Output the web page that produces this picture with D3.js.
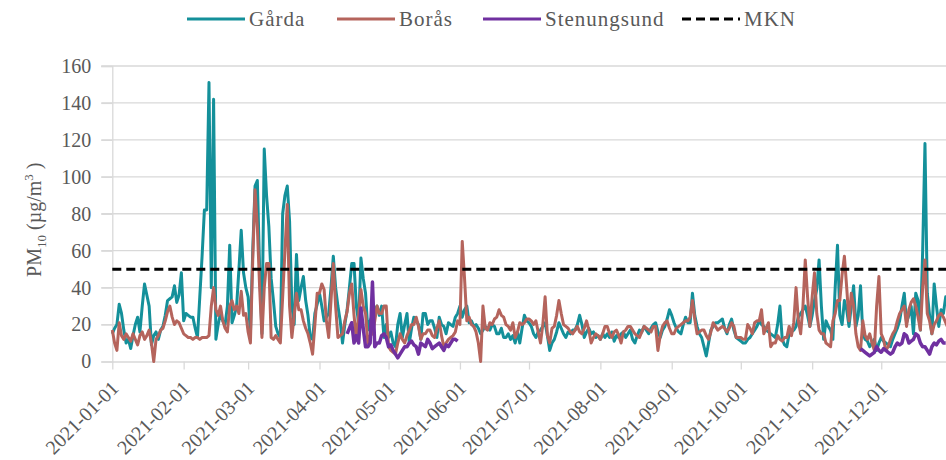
<!DOCTYPE html>
<html>
<head>
<meta charset="utf-8">
<script src="https://cdn.jsdelivr.net/npm/d3@7"></script>
<style>
body { margin: 0; background: #fff; }
svg { display: block; font-family: "Liberation Serif", serif; }
</style>
</head>
<body>
<div id="chart"></div>
<script>
// daily PM10 2021
var startDate = "2021-01-01";
var endDate = "2021-12-31";

var gardaValues = [15,18,20,31,26,17,10,12,7,14,
20,24,16,30,42,36,30,9,14,16,
12,17,19,25,33,34,35,41,32,36,
48,22,26,25,24,24,18,13,35,57,
82,82,151,40,142,12,20,26,22,20,
30,63,21,25,30,50,71,48,40,35,
15,60,95,98,50,15,115,90,73,45,
33,19,15,13,80,90,95,76,30,20,
58,33,40,46,33,25,13,12,26,31,
37,30,22,24,26,40,57,40,30,22,
10,20,28,40,53,53,30,21,56,45,
37,17,22,25,28,30,25,30,13,20,
13,16,10,8,20,26,13,20,26,10,
18,24,22,20,12,26,26,20,22,22,
18,13,24,20,19,15,21,20,19,24,
26,30,24,28,30,21,22,19,20,18,
15,17,19,18,17,20,19,15,15,18,
13,13,15,12,14,10,16,10,18,25,
22,21,19,15,13,16,17,19,21,14,
6,10,12,16,21,18,15,13,16,15,
17,17,20,25,20,13,16,18,15,16,
13,14,12,15,13,15,13,16,11,14,
13,15,16,13,15,17,12,10,14,17,
16,19,17,15,18,20,21,16,13,17,
19,23,28,25,21,18,16,15,20,24,
21,21,37,25,19,15,13,8,3,10,
17,19,21,21,22,23,18,15,20,23,
17,13,12,11,10,10,12,13,15,17,
19,22,20,19,17,16,15,14,13,20,
30,12,9,8,15,16,17,19,24,26,
28,30,25,19,25,33,39,55,30,12,
22,19,17,12,40,63,25,20,33,28,
19,30,41,19,25,41,15,12,11,8,
10,12,6,10,13,11,10,9,8,12,
15,18,22,30,37,21,25,30,15,37,
33,17,60,118,37,25,15,42,30,19,
28,26,35,30,34];

var borasValues = [17,10,6,21,14,12,15,13,11,15,
12,9,14,16,12,14,17,10,0,12,
14,17,18,22,27,30,24,20,22,21,
18,15,14,13,13,12,13,13,12,13,
13,13,14,30,40,28,25,30,22,18,
16,30,33,28,30,26,38,25,26,16,
10,55,93,73,40,13,40,53,53,13,
12,14,12,10,35,60,85,30,13,25,
37,28,28,22,18,15,10,4,20,37,
37,42,39,22,13,33,53,30,13,14,
15,22,27,37,42,25,12,25,39,30,
26,10,14,15,22,30,26,26,30,30,
8,6,5,4,10,15,12,10,14,17,
20,20,24,19,12,15,15,17,17,14,
13,18,22,14,8,10,12,13,14,16,
22,20,65,45,22,24,20,19,16,10,
0,30,18,17,21,20,23,24,28,25,
24,20,19,17,21,13,16,21,20,21,
23,23,22,20,22,16,10,20,35,14,
10,18,19,25,33,26,20,19,18,16,
15,17,19,16,15,18,22,17,10,13,
15,14,12,15,19,19,15,13,16,17,
14,10,16,17,19,19,17,15,14,13,
16,19,18,17,16,19,19,6,14,19,
21,22,18,15,15,18,19,20,21,22,
22,24,33,23,15,16,17,17,14,12,
16,21,19,17,18,19,18,16,18,21,
19,13,13,13,12,12,20,18,15,21,
22,22,28,15,18,21,8,10,10,14,
12,11,13,13,19,14,21,40,22,15,
30,55,35,19,35,48,26,17,15,15,
10,9,8,22,26,33,33,47,57,40,
22,37,30,15,8,6,22,14,12,15,
10,6,30,46,15,12,6,8,12,15,
17,22,26,28,30,19,28,32,34,30,
24,17,40,55,26,22,15,20,22,25,
26,24,21,18,22];

// Stenungsund only measured in two periods
var stenSpringStart = "2021-04-13";
var stenSpringValues = [15,18,21,10,14,10,29,18,8,8,
10,43,8,10,10,14,15,13,8,9,
6,4,2,4,6,8,8,10,11,9,
8,4,10,9,8,12,10,7,8,9,
10,8,6,9,8,10,12,12,11];
var stenWinterStart = "2021-11-22";
var stenWinterValues = [7,6,5,4,3,4,5,8,6,5,
7,6,5,4,5,8,10,9,10,15,
14,10,11,12,15,14,10,8,8,6,
4,8,10,9,11,12,10,10];

var mknLimit = 50;
var yTicks = [0, 20, 40, 60, 80, 100, 120, 140, 160];
var monthTicks = ["2021-01-01","2021-02-01","2021-03-01","2021-04-01","2021-05-01","2021-06-01",
    "2021-07-01","2021-08-01","2021-09-01","2021-10-01","2021-11-01","2021-12-01"];
var legendNames = ["Gårda", "Borås", "Stenungsund", "MKN"];
var colors = ["#14909a", "#b5645c", "#7030a0", "#000000"];

var svgwidth = 946, svgheight = 460;
var margin = {top: 66, left: 112.3},
    width = 838,
    height = 295.5;

var parse = d3.timeParse("%Y-%m-%d");

function toSeries(start, values) {
    var s = parse(start);
    return values.map(function(v, i) { return {date: d3.timeDay.offset(s, i), value: v}; });
}

var gardaData = toSeries(startDate, gardaValues);
var borasData = toSeries(startDate, borasValues);
var stenSpring = toSeries(stenSpringStart, stenSpringValues);
var stenWinter = toSeries(stenWinterStart, stenWinterValues);

var x = d3.scaleTime()
    .domain([parse(startDate), parse(endDate)])
    .range([0, width]);

var y = d3.scaleLinear()
    .domain([0, 160])
    .range([height, 0]);

var svg = d3.select("#chart").append("svg")
    .attr("width", svgwidth)
    .attr("height", svgheight);

var g = svg.append("g")
    .attr("transform", "translate(" + margin.left + "," + margin.top + ")");

// horizontal grid, also acts as left tick marks
g.append("g")
    .selectAll("line")
    .data(yTicks.slice(1))
  .enter().append("line")
    .attr("x1", -11)
    .attr("x2", width)
    .attr("y1", function(d) { return y(d); })
    .attr("y2", function(d) { return y(d); })
    .style("stroke", "#d9d9d9")
    .style("stroke-width", 1.3);

var yAxis = d3.axisLeft(y).tickValues(yTicks).tickSize(11).tickPadding(10);
var yG = g.append("g").attr("class", "y axis").call(yAxis)
    .attr("font-family", "Liberation Serif");
yG.select(".domain").style("stroke", "#d9d9d9").style("stroke-width", 1.3);
yG.selectAll(".tick line").style("stroke", "#d9d9d9").style("stroke-width", 1.3);
yG.selectAll("text")
    .style("font-family", "Liberation Serif")
    .style("font-size", "20px")
    .style("fill", "#595959");

var xAxis = d3.axisBottom(x)
    .tickValues(monthTicks.map(parse))
    .tickFormat(d3.timeFormat("%Y-%m-%d"))
    .tickSize(8)
    .tickSizeOuter(0);

var xG = g.append("g")
    .attr("class", "x axis")
    .attr("transform", "translate(0," + height + ")")
    .call(xAxis)
    .attr("font-family", "Liberation Serif");
xG.select(".domain").style("stroke", "#d9d9d9").style("stroke-width", 1.3);
xG.selectAll(".tick line").style("stroke", "#d9d9d9").style("stroke-width", 1.3);
xG.selectAll("text")
    .attr("x", 0)
    .attr("y", 0)
    .attr("dy", 0)
    .attr("transform", "translate(7,28) rotate(-45)")
    .style("text-anchor", "end")
    .style("font-family", "Liberation Serif")
    .style("font-size", "20px")
    .style("fill", "#595959");

// y title
g.append("text")
    .attr("transform", "translate(-71," + (height / 2 + 6) + ") rotate(-90)")
    .style("text-anchor", "middle")
    .style("font-size", "20px")
    .style("fill", "#595959")
    .call(function(t) {
        t.append("tspan").text("PM");
        t.append("tspan").attr("dy", 5).style("font-size", "13px").text("10");
        t.append("tspan").attr("dy", -5).text(" (µg/m");
        t.append("tspan").attr("dy", -8).style("font-size", "13px").text("3");
        t.append("tspan").attr("dy", 8).text(" )");
    });

var line = d3.line()
    .x(function(d) { return x(d.date); })
    .y(function(d) { return y(d.value); });

g.append("path").datum(gardaData)
    .attr("d", line)
    .style("fill", "none").style("stroke", colors[0])
    .style("stroke-width", 3).style("stroke-linejoin", "round");

g.append("path").datum(borasData)
    .attr("d", line)
    .style("fill", "none").style("stroke", colors[1])
    .style("stroke-width", 3).style("stroke-linejoin", "round");

[stenSpring, stenWinter].forEach(function(part) {
    g.append("path").datum(part)
        .attr("d", line)
        .style("fill", "none").style("stroke", colors[2])
        .style("stroke-width", 3.5).style("stroke-linejoin", "round");
});

g.append("line")
    .attr("x1", 0).attr("x2", width)
    .attr("y1", y(mknLimit)).attr("y2", y(mknLimit))
    .style("stroke", "#000")
    .style("stroke-width", 3)
    .style("stroke-dasharray", "9,5");

// legend
var legendX = [187, 337, 483, 682];
var legend = svg.append("g").attr("class", "legend");
legendNames.forEach(function(name, i) {
    var item = legend.append("g").attr("transform", "translate(" + legendX[i] + ",19)");
    item.append("line")
        .attr("x1", 0).attr("x2", 58)
        .style("stroke", colors[i])
        .style("stroke-width", 3)
        .style("stroke-dasharray", i == 3 ? "9,5" : null);
    item.append("text")
        .attr("x", 62)
        .attr("dy", "0.35em")
        .style("font-size", "21px")
        .style("letter-spacing", "1px")
        .style("fill", "#595959")
        .text(name);
});
</script>
</body>
</html>
